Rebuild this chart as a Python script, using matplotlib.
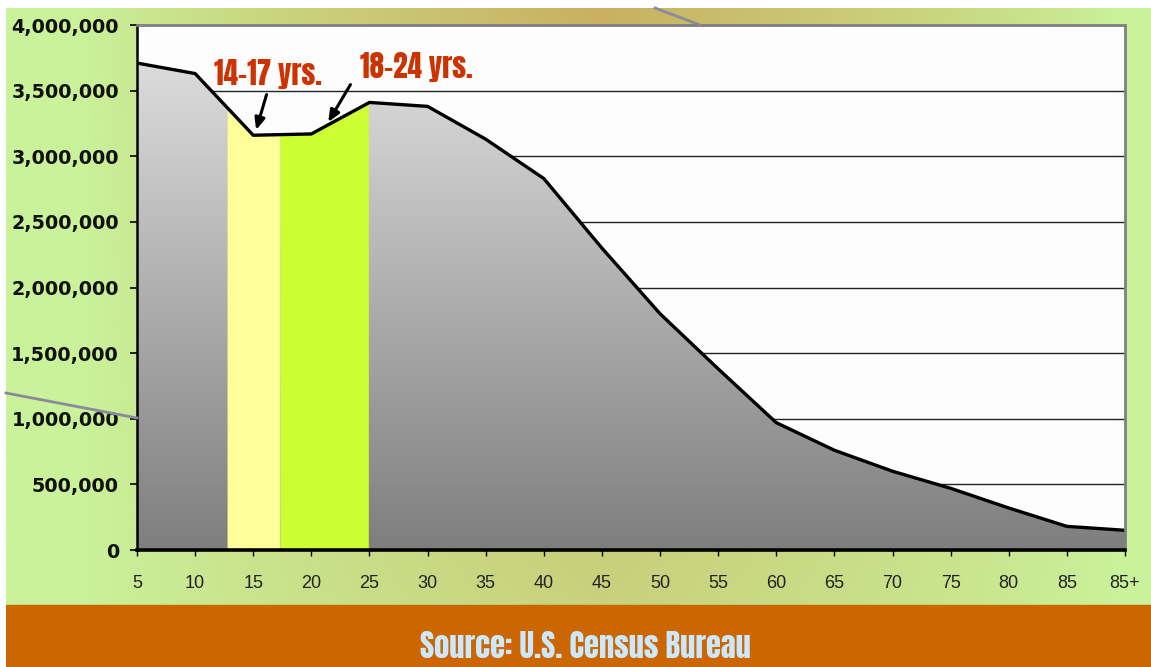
import numpy as np
import matplotlib
matplotlib.use("Agg")
import matplotlib.pyplot as plt
from matplotlib.colors import LinearSegmentedColormap
from matplotlib.lines import Line2D
from matplotlib.patches import Rectangle

# population by age group (U.S. Census)
age_labels = ["5", "10", "15", "20", "25", "30", "35", "40", "45", "50",
              "55", "60", "65", "70", "75", "80", "85", "85+"]
population = [3710000, 3630000, 3160000, 3170000, 3410000, 3380000, 3130000,
              2830000, 2300000, 1800000, 1380000, 970000, 760000, 600000,
              470000, 320000, 180000, 150000]

# highlighted bands (category-axis positions)
band_1417 = (1.55, 2.46)
band_1824 = (2.46, 3.98)

W, H = 1151, 667
fig = plt.figure(figsize=(W / 100, H / 100), dpi=100)
fig.patch.set_facecolor("white")

# background: green edges, tan centre, white margin top/left
bg = fig.add_axes([6 / W, 0, 1 - 6 / W, 1 - 8 / H])
bg.set_axis_off()
gx = np.linspace(0, 1, 400)
gy = np.linspace(0, 1, 200)
X, Y = np.meshgrid(gx, gy)
bump = np.clip(1 - np.abs(X - 0.52) / 0.45, 0, 1) ** 0.8
vert = 0.45 + 0.55 * Y  # stronger at top
w = bump * vert
green = np.array([0xc9, 0xf2, 0x9a]) / 255
tan = np.array([0xc9, 0xb0, 0x60]) / 255
img = green[None, None, :] * (1 - w[..., None]) + tan[None, None, :] * w[..., None]
bg.imshow(img, extent=[0, 1, 0, 1], origin="lower", aspect="auto")
bg.set_xlim(0, 1)
bg.set_ylim(0, 1)
bg.add_patch(Rectangle((0, 0), 1, 62 / 659, color="#cc6600", zorder=3))

# decorative lines
fig.add_artist(Line2D([655 / W, 700 / W], [1 - 8 / H, 1 - 25 / H], color="#8a8a9a", lw=2))
fig.add_artist(Line2D([6 / W, 137 / W], [1 - 393 / H, 1 - 418 / H], color="#8a8a9a", lw=2))

ax = fig.add_axes([137 / W, 117 / H, (1125 - 137) / W, (550 - 25) / H])
ax.set_facecolor("#fdfdfd")
x = np.arange(len(population))

for v in range(500000, 4000001, 500000):
    ax.axhline(v, color="#222222", lw=1, zorder=1)

poly = ax.fill_between(x, population, 0, color="none", zorder=2)
cmap = LinearSegmentedColormap.from_list("g", ["#7e7e7e", "#e0e0e0"])
grad = np.linspace(0, 1, 256).reshape(-1, 1)
im = ax.imshow(grad, cmap=cmap, origin="lower", aspect="auto",
               extent=[0, len(population) - 1, 0, 3900000], zorder=2)
im.set_clip_path(poly.get_paths()[0], transform=ax.transData)
ax.set_xlim(0, len(population) - 1)
ax.set_ylim(0, 4000000)

xf = np.linspace(band_1417[0], band_1417[1], 50)
ax.fill_between(xf, np.interp(xf, x, population), 0, color="#ffff99", lw=0, zorder=3)
xf = np.linspace(band_1824[0], band_1824[1], 50)
ax.fill_between(xf, np.interp(xf, x, population), 0, color="#ccff33", lw=0, zorder=3)

ax.plot(x, population, color="black", lw=2.4, zorder=4)

for s in ["top", "right"]:
    ax.spines[s].set_color("#808080")
    ax.spines[s].set_linewidth(2)
ax.spines["left"].set_color("black")
ax.spines["left"].set_linewidth(1.8)
ax.spines["bottom"].set_color("black")
ax.spines["bottom"].set_linewidth(2.6)
for s in ax.spines.values():
    s.set_zorder(5)

ax.set_yticks(range(0, 4000001, 500000))
ax.set_yticklabels([f"{v:,}" for v in range(0, 4000001, 500000)],
                   fontfamily="DejaVu Sans", fontweight="bold", fontsize=13.8, color="#111111")
ax.set_xticks(x)
ax.set_xticklabels(age_labels, fontfamily="Liberation Sans", fontsize=13, color="#222222")
ax.tick_params(axis="y", length=5, width=1.2, pad=8)
ax.tick_params(axis="x", length=4, width=1, pad=14)

# annotations
lab_font = dict(family=["Anton", "DejaVu Sans"], fontsize=21, color="#cc3300", zorder=6)
ax.text(1.33, 3540000, "14-17 yrs.", ha="left", va="baseline", **lab_font)
ax.text(3.84, 3600000, "18-24 yrs.", ha="left", va="baseline", **lab_font)
arrow = dict(arrowstyle="-|>,head_length=0.7,head_width=0.3",
             color="black", lw=2.2, shrinkA=0, shrinkB=0)
ax.annotate("", xy=(2.05, 3200000), xytext=(7.5, 25.5),
            textcoords="offset points", arrowprops=arrow, zorder=6)
ax.annotate("", xy=(3.29, 3260000), xytext=(16, 27),
            textcoords="offset points", arrowprops=arrow, zorder=6)

fig.text(585 / W, 1 - 646 / H, "Source: U.S. Census Bureau", ha="center", va="center",
         family=["Anton", "DejaVu Sans"], fontsize=22, color="#cce8ff")

fig.savefig("out.png", dpi=100)
